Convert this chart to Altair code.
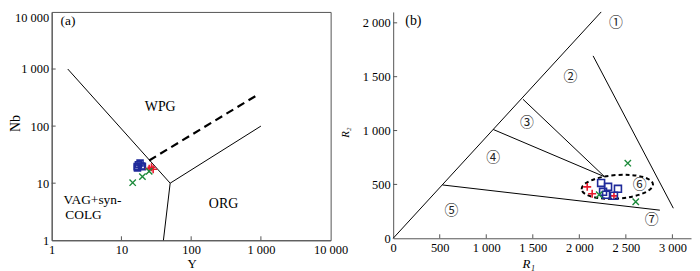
import altair as alt
import pandas as pd

# ---------------- Panel (a): Nb vs Y (log-log) ----------------
a_blue_Y = [16.8, 17.5, 18.5, 19.5, 20.0, 17.0]
a_blue_Nb = [19.5, 21.0, 22.5, 20.0, 19.5, 18.5]
a_red_Y = [25.0, 27.0, 28.5]
a_red_Nb = [18.0, 19.0, 17.5]
a_green_Y = [14.5, 20.0, 25.0]
a_green_Nb = [10.2, 13.0, 16.2]

a_line_seg = ["s1", "s1", "s2", "s2", "s3", "s3"]
a_line_Y = [1.7, 50, 50, 1000, 50, 40]
a_line_Nb = [1000, 10, 10, 100, 10, 1]
a_dash_Y = [25, 920]
a_dash_Nb = [25, 360]

a_lab_c_text = ["WPG", "ORG"]
a_lab_c_Y = [36, 291]
a_lab_c_Nb = [214, 4.4]
a_lab_l_text = ["VAG+syn-", "COLG", "(a)"]
a_lab_l_Y = [1.48, 1.57, 1.34]
a_lab_l_Nb = [5.0, 2.8, 6970]

a_ticks = [1, 10, 100, 1000, 10000]
a_inner_ticks = [10, 100, 1000]

# ---------------- Panel (b): R1-R2 ----------------
b_blue_R1 = [2234, 2309, 2415, 2255, 2287, 2372]
b_blue_R2 = [514, 477, 459, 431, 404, 395]
b_red_R1 = [2085, 2138, 2372]
b_red_R2 = [477, 413, 394]
b_green_R1 = [2521, 2606, 2213]
b_green_R2 = [697, 339, 404]

b_line_seg = ["d", "d", "l32", "l32", "l43", "l43", "l54", "l54", "l21", "l21"]
b_line_R1 = [0, 2235, 1395, 2272, 1075, 2272, 530, 2865, 2148, 3010]
b_line_R2 = [0, 2101, 1290, 571, 1010, 571, 495, 261, 1693, 279]

b_ell_R1 = [2408]
b_ell_R2 = [478]

b_lab_text = ["①", "②", "③", "④", "⑤", "⑥", "⑦"]
b_lab_R1 = [2394, 1904, 1436, 1074, 627, 2649, 2777]
b_lab_R2 = [2000, 1495, 1073, 743, 257, 495, 165]

b_xticks = [0, 500, 1000, 1500, 2000, 2500, 3000]
b_yticks = [0, 500, 1000, 1500, 2000]

BLUE = "#1f2a9a"
RED = "#e8192c"
GREEN = "#1b8a3a"
AXC = "#555555"
SERIF = "Liberation Serif"
PLUS = "M -1 0 L 1 0 M 0 -1 L 0 1"
CROSS = "M -0.8 -0.8 L 0.8 0.8 M -0.8 0.8 L 0.8 -0.8"
ELLIPSE = "M -1 0 A 1 0.33 0 1 1 1 0 A 1 0.33 0 1 1 -1 0 Z"
LABEL_EXPR = "replace(format(datum.value, ','), ',', ' ')"

WA, HA = 281, 230
WB, HB = 300, 228

# ---- scales / axes ----
xa_scale = alt.Scale(type="log", domain=[1, 10000], nice=False)
ya_scale = alt.Scale(type="log", domain=[1, 10000], nice=False)
xa_axis = alt.Axis(values=a_ticks, labelExpr=LABEL_EXPR, title="Y", ticks=False,
                   titleX=141, titleY=23, titleBaseline="middle", titleAlign="center",
                   titleFontSize=13)
ya_axis = alt.Axis(values=a_ticks, labelExpr=LABEL_EXPR, title="Nb", ticks=False,
                   titleX=-36, titleY=112, titleAngle=270, titleBaseline="middle",
                   titleAlign="center",
                   labelBaseline={"condition": {"test": "datum.value >= 10000", "value": "top"},
                                  "value": "middle"})

xb_scale = alt.Scale(domain=[0, 3200], nice=False)
yb_scale = alt.Scale(domain=[0, 2101], nice=False)
xb_axis = alt.Axis(values=b_xticks, labelExpr=LABEL_EXPR, title="R₁", ticks=False,
                   titleFontStyle="italic", titleFontSize=13, titleX=136, titleY=25,
                   titleBaseline="middle", titleAlign="center")
yb_axis = alt.Axis(values=b_yticks, labelExpr=LABEL_EXPR, title="R₂", ticks=False,
                   titleFontStyle="italic", titleFontSize=11, titleX=-48, titleY=121,
                   titleAngle=270, titleBaseline="middle", titleAlign="center")


def XA(f):
    return alt.X(f, type="quantitative", scale=xa_scale, axis=xa_axis)


def YA(f):
    return alt.Y(f, type="quantitative", scale=ya_scale, axis=ya_axis)


def XB(f):
    return alt.X(f, type="quantitative", scale=xb_scale, axis=xb_axis)


def YB(f):
    return alt.Y(f, type="quantitative", scale=yb_scale, axis=yb_axis)


# ---- panel (a) layers ----
a_lines = pd.DataFrame({"seg": a_line_seg, "Y": a_line_Y, "Nb": a_line_Nb,
                        "o": list(range(len(a_line_Y)))})
a_dash = pd.DataFrame({"Y": a_dash_Y, "Nb": a_dash_Nb})

la1 = alt.Chart(a_lines).mark_line(color="black", strokeWidth=1).encode(
    x=XA("Y"), y=YA("Nb"), detail="seg:N", order="o:Q")
la2 = alt.Chart(a_dash).mark_line(color="black", strokeWidth=2.2, strokeDash=[8, 5]).encode(
    x=XA("Y"), y=YA("Nb"))
la_blue = alt.Chart(pd.DataFrame({"Y": a_blue_Y, "Nb": a_blue_Nb})).mark_point(
    shape="square", filled=False, size=36, strokeWidth=1.6, color=BLUE, opacity=1).encode(
    x=XA("Y"), y=YA("Nb"))
la_red = alt.Chart(pd.DataFrame({"Y": a_red_Y, "Nb": a_red_Nb})).mark_point(
    shape=PLUS, filled=False, size=64, strokeWidth=1.6, color=RED, opacity=1).encode(
    x=XA("Y"), y=YA("Nb"))
la_green = alt.Chart(pd.DataFrame({"Y": a_green_Y, "Nb": a_green_Nb})).mark_point(
    shape=CROSS, filled=False, size=64, strokeWidth=1.4, color=GREEN, opacity=1).encode(
    x=XA("Y"), y=YA("Nb"))
la_txt_c = alt.Chart(pd.DataFrame({"t": a_lab_c_text, "Y": a_lab_c_Y, "Nb": a_lab_c_Nb})).mark_text(
    font=SERIF, fontSize=14, align="center", baseline="middle", color="black").encode(
    x=XA("Y"), y=YA("Nb"), text="t:N")
la_txt_l = alt.Chart(pd.DataFrame({"t": a_lab_l_text, "Y": a_lab_l_Y, "Nb": a_lab_l_Nb})).mark_text(
    font=SERIF, fontSize=13.5, align="left", baseline="middle", color="black").encode(
    x=XA("Y"), y=YA("Nb"), text="t:N")
ta = pd.DataFrame({"v": a_inner_ticks})
la_tx = alt.Chart(ta).mark_rule(color=AXC).encode(
    x=XA("v"), y=alt.value(HA), y2=alt.value(HA - 4))
la_ty = alt.Chart(ta).mark_rule(color=AXC).encode(
    y=YA("v"), x=alt.value(0), x2=alt.value(4))

panel_a = alt.layer(la1, la2, la_tx, la_ty, la_txt_c, la_txt_l, la_blue, la_red, la_green).properties(
    width=WA, height=HA, view=alt.ViewBackground(stroke=AXC, strokeWidth=1))

# ---- panel (b) layers ----
b_lines = pd.DataFrame({"seg": b_line_seg, "R1": b_line_R1, "R2": b_line_R2,
                        "o": list(range(len(b_line_R1)))})
lb1 = alt.Chart(b_lines).mark_line(color="black", strokeWidth=1).encode(
    x=XB("R1"), y=YB("R2"), detail="seg:N", order="o:Q")
lb_ell = alt.Chart(pd.DataFrame({"R1": b_ell_R1, "R2": b_ell_R2})).mark_point(
    shape=ELLIPSE, filled=False, size=5184, strokeWidth=2, color="black",
    strokeDash=[4, 3], angle=356, opacity=1).encode(x=XB("R1"), y=YB("R2"))
lb_blue = alt.Chart(pd.DataFrame({"R1": b_blue_R1, "R2": b_blue_R2})).mark_point(
    shape="square", filled=False, size=49, strokeWidth=1.6, color=BLUE, opacity=1).encode(
    x=XB("R1"), y=YB("R2"))
lb_red = alt.Chart(pd.DataFrame({"R1": b_red_R1, "R2": b_red_R2})).mark_point(
    shape=PLUS, filled=False, size=64, strokeWidth=1.6, color=RED, opacity=1).encode(
    x=XB("R1"), y=YB("R2"))
lb_green = alt.Chart(pd.DataFrame({"R1": b_green_R1, "R2": b_green_R2})).mark_point(
    shape=CROSS, filled=False, size=64, strokeWidth=1.4, color=GREEN, opacity=1).encode(
    x=XB("R1"), y=YB("R2"))
lb_txt = alt.Chart(pd.DataFrame({"t": b_lab_text, "R1": b_lab_R1, "R2": b_lab_R2})).mark_text(
    font="Noto Sans CJK SC", fontSize=14, align="center", baseline="middle", color="#222").encode(
    x=XB("R1"), y=YB("R2"), text="t:N")
lb_b = alt.Chart(pd.DataFrame({"t": ["(b)"], "R1": [130], "R2": [2018]})).mark_text(
    font=SERIF, fontSize=14, align="left", baseline="middle", color="black").encode(
    x=XB("R1"), y=YB("R2"), text="t:N")
tbx = pd.DataFrame({"v": b_xticks[1:]})
tby = pd.DataFrame({"v": b_yticks[1:]})
lb_tx = alt.Chart(tbx).mark_rule(color=AXC).encode(
    x=XB("v"), y=alt.value(HB), y2=alt.value(HB - 4))
lb_ty = alt.Chart(tby).mark_rule(color=AXC).encode(
    y=YB("v"), x=alt.value(0), x2=alt.value(4))

panel_b = alt.layer(lb1, lb_ell, lb_tx, lb_ty, lb_txt, lb_b, lb_red, lb_blue, lb_green).properties(
    width=WB, height=HB)

chart = alt.hconcat(panel_a, panel_b, spacing=63, bounds="flush").properties(
    padding={"left": 0, "top": 0, "right": 0, "bottom": 0},
).configure_view(stroke="transparent").configure_axis(
    labelFont=SERIF, labelFontSize=12.5, labelColor="black", labelPadding=3,
    titleFont=SERIF, titleFontSize=14, titleFontWeight="normal", titleColor="black",
    domainColor=AXC, domainWidth=1, grid=False, labelFlush=False,
)

chart.save("out.html", embed_options={"renderer": "svg", "actions": False})
